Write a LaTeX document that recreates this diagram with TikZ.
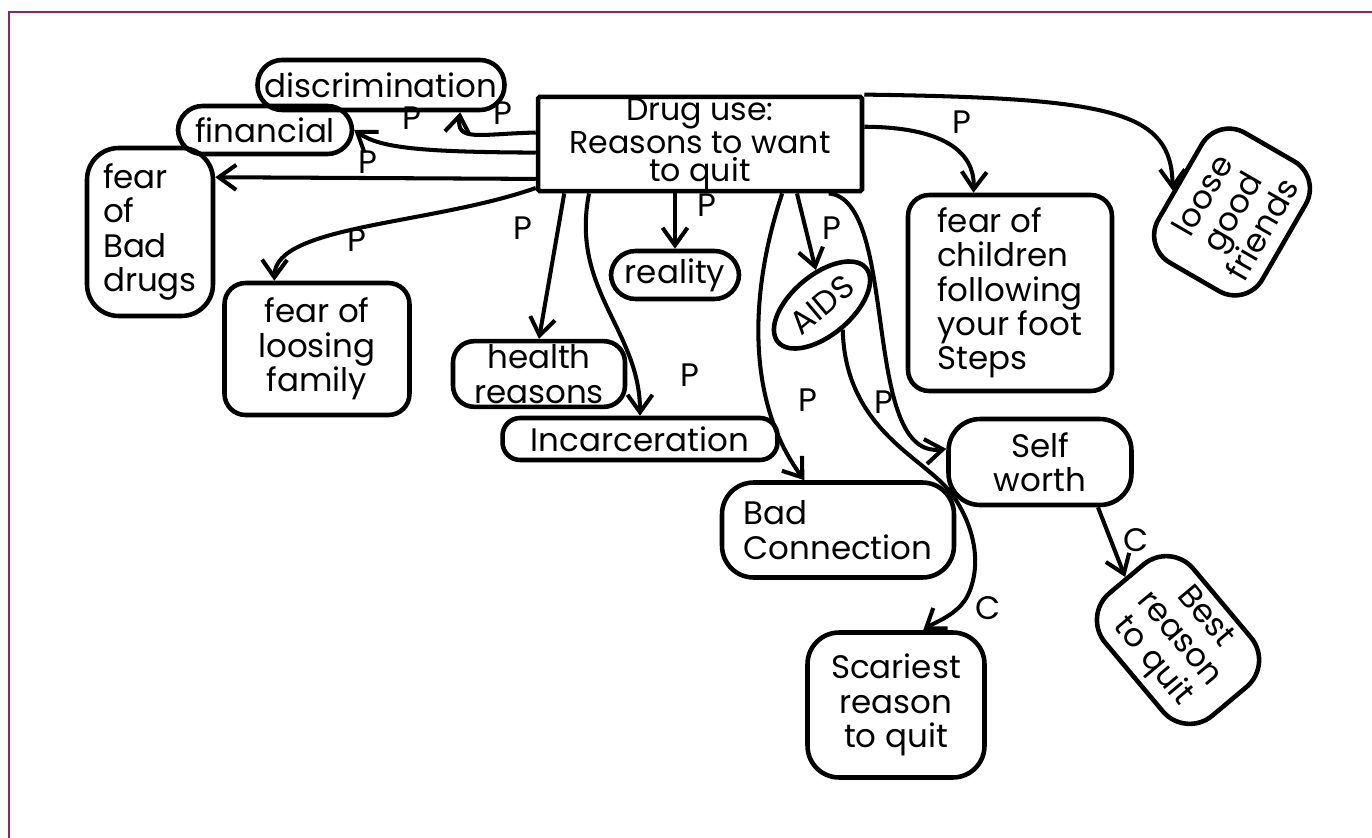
\documentclass[tikz,border=0pt]{standalone}
\usepackage{fontspec}
\setmainfont{Poppins}
\usetikzlibrary{arrows.meta, shapes.geometric}
\definecolor{mapframe}{HTML}{8E2470}
\newcommand{\handfont}{\fontsize{18.5}{19.5}\selectfont}

\begin{document}
\begin{tikzpicture}[x=0.02cm, y=-0.02cm, >={Straight Barb[length=3.5mm, width=5mm]},
  concept/.style={draw, line width=2.6pt, rounded corners=#1, align=center,
                  inner sep=2pt, font=\handfont},
  concept/.default=12pt,
  link/.style={->, line width=2.3pt},
  lbl/.style={font=\handfont, inner sep=1pt}]

\useasboundingbox (0,0) rectangle (1372,838);

% Frame
\draw[mapframe, line width=1.7pt] (9,838) -- (9,12) -- (1372,12);

% Central concept
\node[concept=1pt, minimum width=6.48cm, minimum height=1.64cm, inner sep=1pt,
      font=\fontsize{18}{16}\selectfont] (hub) at (700,144)
  {Drug use:\\Reasons to want\\to quit};

% Concepts
\node[concept=14pt, minimum width=4.94cm, minimum height=1.0cm] (discr) at (381,85) {discrimination};
\node[concept=14pt, minimum width=3.48cm, minimum height=0.96cm] (financial) at (265,130) {financial};
\node[concept=18pt, minimum width=2.52cm, minimum height=3.36cm, align=left] (baddrugs) at (150,232) {fear\\of\\Bad\\drugs};
\node[concept, minimum width=3.7cm, minimum height=2.64cm] (family) at (317,349) {fear of\\loosing\\family};
\node[concept, minimum width=3.44cm, minimum height=1.24cm] (health) at (539,374) {health\\reasons};
\node[concept=14pt, minimum width=2.56cm, minimum height=0.96cm] (reality) at (675,275) {reality};
\node[concept=10pt, minimum width=5.5cm, minimum height=0.84cm] (incarc) at (640,439) {Incarceration};
\node[concept, ellipse, rotate=40, minimum width=2.3cm, minimum height=1.2cm, inner sep=0pt] (aids) at (822,305) {AIDS};
\node[concept=18pt, minimum width=4.64cm, minimum height=1.9cm, align=left] (badconn) at (838,530) {Bad\\Connection};
\node[concept, minimum width=4.08cm, minimum height=3.92cm, align=left] (children) at (1010,293)
  {fear of\\children\\following\\your foot\\Steps};
\node[concept=18pt, rotate=60, minimum width=3.0cm, minimum height=2.4cm] (friends) at (1232,212) {loose\\good\\friends};
\node[concept=18pt, minimum width=3.66cm, minimum height=1.72cm] (selfworth) at (1040,462) {Self\\worth};
\node[concept=18pt, minimum width=3.54cm, minimum height=2.9cm] (scariest) at (896,705) {Scariest\\reason\\to quit};
\node[concept=20pt, rotate=-50, minimum width=3.2cm, minimum height=2.3cm] (bestreason) at (1178,640) {Best\\reason\\to quit};

% Links from the central concept
\draw[link] (hub.176) .. controls (478,134) and (456,142) .. (discr.-19);
\draw[link] (hub.183) .. controls (420,152) and (380,148) .. (financial.east);
\draw[link] (hub.192) -- (baddrugs.40);
\draw[link] (hub.195) .. controls (430,225) and (275,225) .. (family.122);
\draw[link] (hub.200) -- (health.north);
\draw[link] (hub.204) .. controls (570,290) and (640,330) .. (incarc.north);
\draw[link] (hub.south -| reality.north) -- (reality.north);
\draw[link] (hub.-27) -- (aids.60);
\draw[link] (hub.-31) .. controls (750,290) and (745,400) .. (badconn.124);
\draw[link] (hub.-21) .. controls (900,200) and (860,460) .. (selfworth.172);
\draw[link] (hub.6) .. controls (940,127) and (975,150) .. (children.110);
\draw[link] (hub.north east) .. controls (1110,98) and (1172,110) .. (friends.100);

% Links between concepts
\draw[link] (aids.south) .. controls (845,430) and (925,458) .. (951,493)
  .. controls (971,520) and (984,560) .. (968,595)
  .. controls (958,615) and (935,622) .. (scariest.70);
\draw[link] (selfworth.-38) -- (bestreason.west);

% Link labels
\node[lbl] (pDiscr) at (503,113) {P};
\node[lbl] (pFin) at (412,118) {P};
\node[lbl] (pDrugs) at (368,162) {P};
\node[lbl] (pFamily) at (357,240) {P};
\node[lbl] (pHealth) at (523,228) {P};
\node[lbl] (pReal) at (707,205) {P};
\node[lbl] (pAids) at (832,228) {P};
\node[lbl] (pKids) at (962,122) {P};
\node[lbl] (pIncarc) at (690,375) {P};
\node[lbl] (pBad) at (808,400) {P};
\node[lbl] (pSelf) at (884,402) {P};
\node[lbl] (cScary) at (988,608) {C};
\node[lbl] (cBest) at (1136,540) {C};

\end{tikzpicture}
\end{document}
